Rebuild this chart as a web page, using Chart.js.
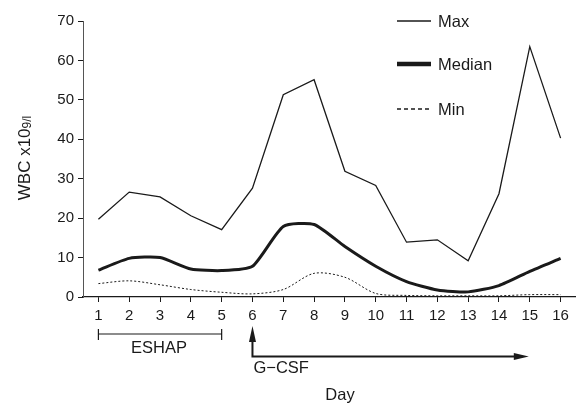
<!DOCTYPE html>
<html>
<head>
<meta charset="utf-8">
<script src="https://cdn.jsdelivr.net/npm/chart.js@4.4.1/dist/chart.umd.min.js"></script>
<style>
  html, body { margin: 0; padding: 0; background: #fff; }
  #wrap { width: 576px; height: 404px; }
</style>
</head>
<body>
<div id="wrap"><canvas id="wbcChart" width="576" height="404"></canvas></div>
<script>
//
// Data
var days = ['1', '2', '3', '4', '5', '6', '7', '8', '9', '10', '11', '12', '13', '14', '15', '16'];
var maxWbc = [19.7, 26.6, 25.4, 20.6, 17.1, 27.6, 51.3, 55.1, 31.9, 28.3, 13.9, 14.5, 9.2, 26.2, 63.5, 40.3];
var medianWbc = [6.8, 9.8, 10.0, 7.1, 6.7, 7.8, 17.9, 18.4, 12.8, 7.8, 3.9, 1.8, 1.3, 2.9, 6.5, 9.8];
var minWbc = [3.4, 4.1, 3.1, 1.9, 1.2, 0.8, 1.9, 6.0, 5.0, 0.9, 0.4, 0.3, 0.3, 0.3, 0.6, 0.6];
var yRange = [0, 70];
var eshapDays = ['1', '5'];
var gcsfDays = ['6', '15'];

var ink = '#1a1a1a';
var font = '"Liberation Sans", Arial, sans-serif';

//
// Extra texts, bracket, arrow and legend
var notes = {
    id: 'notes',
    afterDraw: function(chart) {
        var ctx = chart.ctx;
        var x = chart.scales.x;
        ctx.save();
        ctx.fillStyle = ink;
        ctx.strokeStyle = ink;
        ctx.textBaseline = 'middle';

        // y title
        ctx.save();
        ctx.translate(25, 158);
        ctx.rotate(-Math.PI / 2);
        ctx.font = '17px ' + font;
        var main = 'WBC x10';
        var w1 = ctx.measureText(main).width;
        ctx.font = '12px ' + font;
        var w2 = ctx.measureText('9/l').width;
        var sx = -(w1 + w2) / 2;
        ctx.font = '17px ' + font;
        ctx.textAlign = 'left';
        ctx.fillText(main, sx, 0);
        ctx.font = '12px ' + font;
        ctx.fillText('9/l', sx + w1, 2.5);
        ctx.restore();

        // x title
        ctx.font = '16.5px ' + font;
        ctx.textAlign = 'center';
        ctx.fillText('Day', 340, 395);

        // ESHAP bracket
        var e1 = x.getPixelForValue(days.indexOf(eshapDays[0]));
        var e2 = x.getPixelForValue(days.indexOf(eshapDays[1]));
        ctx.lineWidth = 1.2;
        ctx.beginPath();
        ctx.moveTo(e1, 334); ctx.lineTo(e2, 334);
        ctx.moveTo(e1, 329); ctx.lineTo(e1, 340);
        ctx.moveTo(e2, 329); ctx.lineTo(e2, 340);
        ctx.stroke();
        ctx.fillText('ESHAP', (e1 + e2) / 2 - 1, 348.5);

        // G-CSF arrow
        var g1 = x.getPixelForValue(days.indexOf(gcsfDays[0]));
        var g2 = x.getPixelForValue(days.indexOf(gcsfDays[1])) - 1;
        ctx.lineWidth = 2;
        ctx.beginPath();
        ctx.moveTo(g1, 340); ctx.lineTo(g1, 356.5); ctx.lineTo(g2 - 12, 356.5);
        ctx.stroke();
        ctx.beginPath();
        ctx.moveTo(g1, 326); ctx.lineTo(g1 - 3.5, 342); ctx.lineTo(g1 + 3.5, 342);
        ctx.closePath(); ctx.fill();
        ctx.beginPath();
        ctx.moveTo(g2, 356.5); ctx.lineTo(g2 - 15, 353); ctx.lineTo(g2 - 15, 360);
        ctx.closePath(); ctx.fill();
        ctx.textAlign = 'left';
        ctx.fillText('G\u2212CSF', g1 + 1, 368);

        // legend
        var rows = [21, 64, 109];
        chart.data.datasets.forEach(function(ds, i) {
            ctx.save();
            ctx.strokeStyle = ds.borderColor;
            ctx.lineWidth = i === 1 ? 4.5 : 1.3;
            ctx.setLineDash(i === 2 ? [4, 3] : []);
            ctx.beginPath();
            ctx.moveTo(397, rows[i]); ctx.lineTo(431, rows[i]);
            ctx.stroke();
            ctx.restore();
            ctx.font = '16.5px ' + font;
            ctx.fillText(ds.label, 438, rows[i] + 1);
        });
        ctx.restore();
    }
};

new Chart(document.getElementById('wbcChart'), {
    type: 'line',
    data: {
        labels: days,
        datasets: [{
            label: 'Max',
            data: maxWbc,
            borderColor: ink,
            borderWidth: 1.3,
            tension: 0
        }, {
            label: 'Median',
            data: medianWbc,
            borderColor: ink,
            borderWidth: 3,
            tension: 0.2
        }, {
            label: 'Min',
            data: minWbc,
            borderColor: ink,
            borderWidth: 1,
            borderDash: [2, 2],
            tension: 0.3
        }]
    },
    options: {
        responsive: false,
        animation: false,
        layout: { padding: { top: 21, right: 0, bottom: 0, left: 0 } },
        elements: { point: { radius: 0 } },
        plugins: {
            legend: { display: false },
            tooltip: { enabled: false }
        },
        scales: {
            x: {
                offset: true,
                grid: { drawOnChartArea: false, offset: false, tickLength: 5, color: ink },
                border: { color: ink, width: 1.2 },
                ticks: { color: ink, font: { family: font, size: 15 }, padding: 5, maxRotation: 0, autoSkip: false },
                afterFit: function(scale) { scale.height = 107; }
            },
            y: {
                min: yRange[0],
                max: yRange[1],
                grid: { drawOnChartArea: false, tickLength: 5, color: ink },
                border: { color: '#555', width: 1 },
                ticks: { stepSize: 10, color: ink, font: { family: font, size: 15 }, padding: 4 },
                afterFit: function(scale) { scale.width = 83; }
            }
        }
    },
    plugins: [notes]
});
</script>
</body>
</html>
